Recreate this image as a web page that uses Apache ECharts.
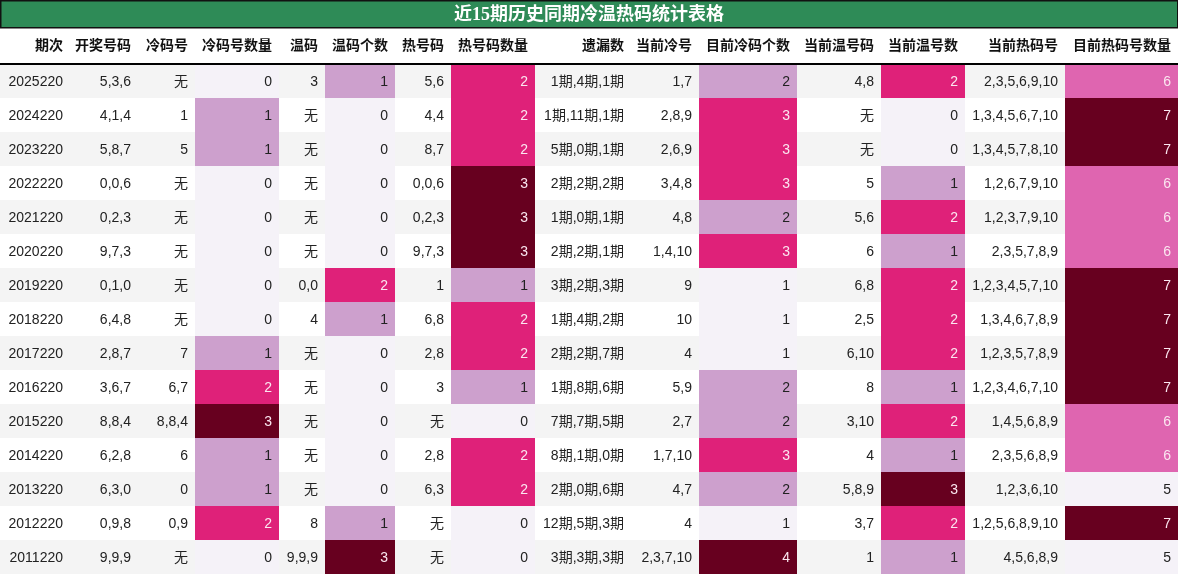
<!DOCTYPE html>
<html>
<head>
<meta charset="utf-8">
<script src="https://cdn.jsdelivr.net/npm/echarts/dist/echarts.min.js"></script>
<style>
  html, body { margin: 0; padding: 0; background: #fff; }
  #main { width: 1178px; height: 575px; }
</style>
</head>
<body>
<div id="main"></div>
<script>
var titleText = '近15期历史同期冷温热码统计表格';

var headers = ['期次', '开奖号码', '冷码号', '冷码号数量', '温码', '温码个数', '热号码', '热号码数量',
  '遗漏数', '当前冷号', '目前冷码个数', '当前温号码', '当前温号数', '当前热码号', '目前热码号数量'];

var periods = ['2025220', '2024220', '2023220', '2022220', '2021220', '2020220', '2019220', '2018220',
  '2017220', '2016220', '2015220', '2014220', '2013220', '2012220', '2011220'];
var drawNums = ['5,3,6', '4,1,4', '5,8,7', '0,0,6', '0,2,3', '9,7,3', '0,1,0', '6,4,8',
  '2,8,7', '3,6,7', '8,8,4', '6,2,8', '6,3,0', '0,9,8', '9,9,9'];
var coldNums = ['无', '1', '5', '无', '无', '无', '无', '无', '7', '6,7', '8,8,4', '6', '0', '0,9', '无'];
var coldCount = [0, 1, 1, 0, 0, 0, 0, 0, 1, 2, 3, 1, 1, 2, 0];
var warmNums = ['3', '无', '无', '无', '无', '无', '0,0', '4', '无', '无', '无', '无', '无', '8', '9,9,9'];
var warmCount = [1, 0, 0, 0, 0, 0, 2, 1, 0, 0, 0, 0, 0, 1, 3];
var hotNums = ['5,6', '4,4', '8,7', '0,0,6', '0,2,3', '9,7,3', '1', '6,8', '2,8', '3', '无', '2,8', '6,3', '无', '无'];
var hotCount = [2, 2, 2, 3, 3, 3, 1, 2, 2, 1, 0, 2, 2, 0, 0];
var missed = ['1期,4期,1期', '1期,11期,1期', '5期,0期,1期', '2期,2期,2期', '1期,0期,1期', '2期,2期,1期',
  '3期,2期,3期', '1期,4期,2期', '2期,2期,7期', '1期,8期,6期', '7期,7期,5期', '8期,1期,0期',
  '2期,0期,6期', '12期,5期,3期', '3期,3期,3期'];
var curCold = ['1,7', '2,8,9', '2,6,9', '3,4,8', '4,8', '1,4,10', '9', '10', '4', '5,9', '2,7', '1,7,10', '4,7', '4', '2,3,7,10'];
var curColdCount = [2, 3, 3, 3, 2, 3, 1, 1, 1, 2, 2, 3, 2, 1, 4];
var curWarm = ['4,8', '无', '无', '5', '5,6', '6', '6,8', '2,5', '6,10', '8', '3,10', '4', '5,8,9', '3,7', '1'];
var curWarmCount = [2, 0, 0, 1, 2, 1, 2, 2, 2, 1, 2, 1, 3, 2, 1];
var curHot = ['2,3,5,6,9,10', '1,3,4,5,6,7,10', '1,3,4,5,7,8,10', '1,2,6,7,9,10', '1,2,3,7,9,10',
  '2,3,5,7,8,9', '1,2,3,4,5,7,10', '1,3,4,6,7,8,9', '1,2,3,5,7,8,9', '1,2,3,4,6,7,10',
  '1,4,5,6,8,9', '2,3,5,6,8,9', '1,2,3,6,10', '1,2,5,6,8,9,10', '4,5,6,8,9'];
var curHotCount = [6, 7, 7, 6, 6, 6, 7, 7, 7, 7, 6, 6, 5, 7, 5];

// column order, widths in px (layout only)
var columns = [
  { values: periods, heat: false },
  { values: drawNums, heat: false },
  { values: coldNums, heat: false },
  { values: coldCount, heat: true },
  { values: warmNums, heat: false },
  { values: warmCount, heat: true },
  { values: hotNums, heat: false },
  { values: hotCount, heat: true },
  { values: missed, heat: false },
  { values: curCold, heat: false },
  { values: curColdCount, heat: true },
  { values: curWarm, heat: false },
  { values: curWarmCount, heat: true },
  { values: curHot, heat: false },
  { values: curHotCount, heat: true }
];
var colWidths = [70, 68, 57, 84, 46, 70, 56, 84, 96, 68, 98, 84, 84, 100, 113];

var PuRd = ['#f5f2f8', '#e7e1ef', '#d4b9da', '#c994c7', '#df65b0', '#e7298a', '#ce1256', '#980043', '#67001f'];
var FONT = '"Liberation Sans", "Noto Sans CJK SC", sans-serif';
var TOTAL = 1178;
var PAD = 7;

var colStart = [];
var acc = 0;
colWidths.forEach(function (w) { colStart.push(acc); acc += w; });

var chart = echarts.init(document.getElementById('main'), null, { renderer: 'canvas' });

var series = [];
var visualMaps = [];

// header row
series.push({
  type: 'custom',
  xAxisIndex: 0,
  yAxisIndex: 0,
  silent: true,
  data: headers.map(function (h, i) { return [colStart[i], 0]; }),
  renderItem: function (params, api) {
    var i = params.dataIndex;
    var xa = api.coord([colStart[i], 0]);
    var xb = api.coord([colStart[i] + colWidths[i], 0]);
    var h = api.size([0, 1])[1];
    return {
      type: 'group',
      children: [
        { type: 'rect', shape: { x: xa[0], y: xa[1] - h / 2, width: xb[0] - xa[0], height: h },
          style: { fill: '#fff' } },
        { type: 'text', style: { text: headers[i], x: xb[0] - PAD, y: xa[1] + 1, align: 'right',
          verticalAlign: 'middle', fontSize: 14, fontWeight: 'bold', fontFamily: FONT, fill: '#111' } }
      ]
    };
  }
});

columns.forEach(function (col, c) {
  var mn = 0, mx = 1;
  if (col.heat) {
    mn = Math.min.apply(null, col.values);
    mx = Math.max.apply(null, col.values);
    visualMaps.push({
      type: 'continuous', show: false, seriesIndex: series.length, dimension: 2,
      min: mn, max: mx, inRange: { color: PuRd }
    });
  }
  series.push({
    type: 'custom',
    xAxisIndex: 1,
    yAxisIndex: 1,
    silent: true,
    data: col.values.map(function (v, r) { return [colStart[c], r, col.heat ? v : 0]; }),
    renderItem: function (params, api) {
      var r = api.value(1);
      var xa = api.coord([colStart[c], r]);
      var xb = api.coord([colStart[c] + colWidths[c], r]);
      var h = api.size([0, 1])[1];
      var fill = r % 2 === 0 ? '#f4f4f4' : '#ffffff';
      var txtColor = '#222';
      if (col.heat) {
        fill = api.visual('color');
        var t = (api.value(2) - mn) / (mx - mn);
        if (t >= 0.5) txtColor = '#fbe6f0';
      }
      return {
        type: 'group',
        children: [
          { type: 'rect', shape: { x: xa[0], y: xa[1] - h / 2, width: xb[0] - xa[0], height: h },
            style: { fill: fill } },
          { type: 'text', style: { text: String(col.values[params.dataIndex]), x: xb[0] - PAD, y: xa[1] + 1,
            align: 'right', verticalAlign: 'middle', fontSize: 14, fontFamily: FONT, fill: txtColor } }
        ]
      };
    }
  });
});

var option = {
  animation: false,
  backgroundColor: '#fff',
  grid: [
    { left: 0, right: 0, top: 28, height: 35 },
    { left: 0, right: 0, top: 64, bottom: 1 }
  ],
  xAxis: [
    { gridIndex: 0, type: 'value', min: 0, max: TOTAL, show: false },
    { gridIndex: 1, type: 'value', min: 0, max: TOTAL, position: 'top', z: 10,
      axisLine: { show: true, lineStyle: { color: '#000', width: 2 } },
      axisTick: { show: false }, axisLabel: { show: false }, splitLine: { show: false } }
  ],
  yAxis: [
    { gridIndex: 0, type: 'category', data: ['header'], show: false },
    { gridIndex: 1, type: 'category', data: periods, inverse: true, show: false }
  ],
  visualMap: visualMaps,
  graphic: [
    { type: 'rect', left: 0, top: 0, z: 100,
      shape: { x: 0, y: 0, width: 1177, height: 27 },
      style: { fill: '#2e8b57', stroke: '#111', lineWidth: 1.5 } },
    { type: 'text', left: 'center', top: 6, z: 101,
      style: { text: titleText, fill: '#fff', fontSize: 18, fontWeight: 'bold',
        fontFamily: '"Liberation Serif", "Noto Sans CJK SC", serif' } }
  ],
  series: series
};

chart.setOption(option);
</script>
</body>
</html>
